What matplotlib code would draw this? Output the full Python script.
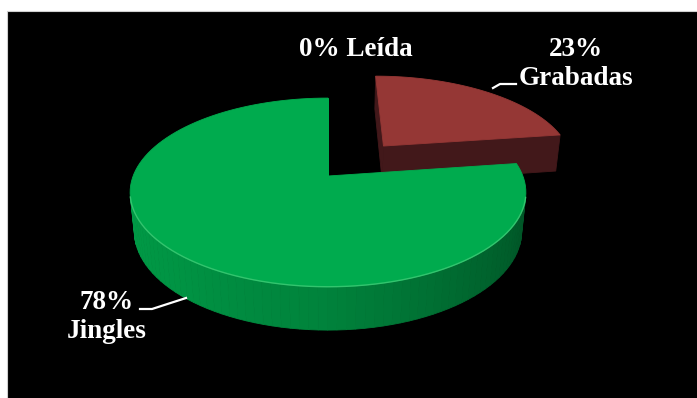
import numpy as np
import matplotlib.pyplot as plt
from matplotlib.patches import Polygon, Rectangle

# data
labels = ['Jingles', 'Grabadas', 'Leída']
values = [78, 23, 0]
pct_text = ['78%', '23%', '0%']
top_colors = ['#00AB4E', '#953735', '#4F81BD']
side_colors = ['#00AB4E', '#42181A', '#2C4D75']
explode = [0.0, 0.46, 0.0]

# camera / 3d settings
elev = np.radians(28)
dist = 5.08
focal = 990
cx, cy = 328, 176
depth = 0.227
start = 90.0
cam = np.array([0.0, -dist * np.cos(elev), dist * np.sin(elev)])


def project(x, y, z):
    v = y * np.sin(elev) + z * np.cos(elev)
    w = y * np.cos(elev) - z * np.sin(elev)
    d = dist + w
    return cx + focal * x / d, cy - focal * v / d, w


def visible(p, n):
    return np.dot(np.asarray(p) - cam, n) < 0


def green_shade(t, base):
    t = np.degrees(t) % 360
    k = np.interp(t, [0, 180, 230, 270, 310, 360],
                  [0.45, 0.92, 0.86, 0.76, 0.6, 0.45])
    r, g, b = base
    return (r * k, g * k, b * k)


fig = plt.figure(figsize=(6.97, 3.98), dpi=100)
fig.patch.set_facecolor('white')
ax = fig.add_axes([0, 0, 1, 1])
ax.set_xlim(0, 697)
ax.set_ylim(398, 0)
ax.axis('off')
ax.add_patch(Rectangle((7, 11), 700, 400, facecolor='black',
                       edgecolor='#cfcfcf', linewidth=0.8))

total = float(sum(values))
angles = [start]
for v in values:
    angles.append(angles[-1] + 360.0 * v / total)

# draw slices back to front: red (behind) first, then green
order = [1, 0]
for i in order:
    if values[i] == 0:
        continue
    t0, t1 = np.radians(angles[i]), np.radians(angles[i + 1])
    mid = (t0 + t1) / 2
    ox, oy = explode[i] * np.cos(mid), explode[i] * np.sin(mid)
    faces = []
    ts = np.linspace(t0, t1, 120)
    for a, b in zip(ts[:-1], ts[1:]):
        m = (a + b) / 2
        n = np.array([np.cos(m), np.sin(m), 0])
        p = np.array([ox + np.cos(m), oy + np.sin(m), 0])
        if not visible(p, n):
            continue
        pts = [project(ox + np.cos(a), oy + np.sin(a), 0),
               project(ox + np.cos(b), oy + np.sin(b), 0),
               project(ox + np.cos(b), oy + np.sin(b), -depth),
               project(ox + np.cos(a), oy + np.sin(a), -depth)]
        if i == 0:
            col = green_shade(m, (0, 171 / 255, 78 / 255))
        else:
            col = side_colors[i]
        faces.append((np.mean([q[2] for q in pts]), pts, col))
    # radial cut faces
    for t, n in [(t0, np.array([np.sin(t0), -np.cos(t0), 0])),
                 (t1, np.array([-np.sin(t1), np.cos(t1), 0]))]:
        p = np.array([ox + 0.5 * np.cos(t), oy + 0.5 * np.sin(t), 0])
        if not visible(p, n):
            continue
        pts = [project(ox, oy, 0),
               project(ox + np.cos(t), oy + np.sin(t), 0),
               project(ox + np.cos(t), oy + np.sin(t), -depth),
               project(ox, oy, -depth)]
        faces.append((np.mean([q[2] for q in pts]), pts, side_colors[i]))
    faces.sort(key=lambda f: -f[0])
    for _, pts, col in faces:
        ax.add_patch(Polygon([(q[0], q[1]) for q in pts], closed=True,
                             facecolor=col, edgecolor=col, linewidth=0.6))
    # top face
    arc = [project(ox + np.cos(t), oy + np.sin(t), 0) for t in ts]
    poly = [project(ox, oy, 0)] + arc
    ax.add_patch(Polygon([(q[0], q[1]) for q in poly], closed=True,
                         facecolor=top_colors[i], edgecolor=top_colors[i],
                         linewidth=0.6))
    if i == 0:
        front = [q for q, t in zip(arc, ts) if np.sin(t) < -0.22]
        ax.plot([q[0] for q in front], [q[1] for q in front],
                color='#33C46E', linewidth=1.0)

# labels
font = dict(family='Liberation Serif', weight='bold', size=19.5,
            color='white', ha='center', va='baseline')
ax.text(356, 56, pct_text[2] + ' ' + labels[2], **font)
ax.text(576, 56, pct_text[1], **font)
ax.text(576, 85, labels[1], **font)
ax.text(107, 309, pct_text[0], **font)
ax.text(107, 338, labels[0], **font)

# leader lines
ax.plot([493, 500, 516], [88, 84, 84], color='white', linewidth=1.6)
ax.plot([140, 152, 186], [309, 309, 298], color='white', linewidth=1.6)

fig.savefig('out.png', dpi=100, facecolor=fig.get_facecolor())
